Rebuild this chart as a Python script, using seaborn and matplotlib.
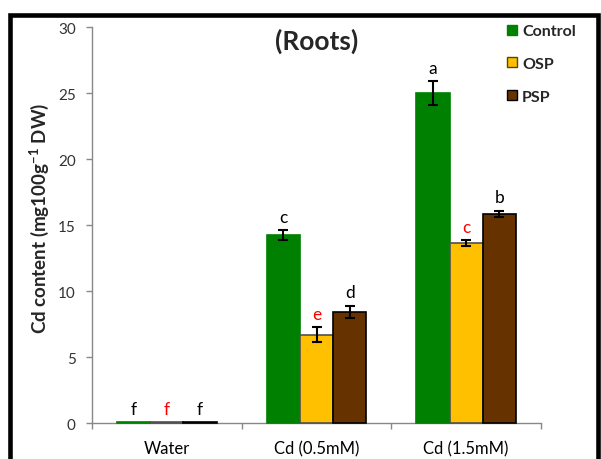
import pandas as pd
import seaborn as sns
import matplotlib.pyplot as plt
from matplotlib.lines import Line2D
from matplotlib.patches import Rectangle

treatments = ['Water', 'Cd (0.5mM)', 'Cd (1.5mM)']
groups = ['Control', 'OSP', 'PSP']
control = [0.1, 14.27, 25.02]
osp = [0.1, 6.70, 13.66]
psp = [0.1, 8.42, 15.86]
control_err = [0.0, 0.35, 0.91]
osp_err = [0.0, 0.56, 0.21]
psp_err = [0.0, 0.48, 0.25]
control_letters = ['f', 'c', 'a']
osp_letters = ['f', 'e', 'c']
psp_letters = ['f', 'd', 'b']

colors = {'Control': '#008000', 'OSP': '#FFC000', 'PSP': '#663300'}
edges = {'Control': '#008000', 'OSP': '#505050', 'PSP': '#000000'}
letter_colors = {'Control': 'black', 'OSP': 'red', 'PSP': 'black'}

df = pd.DataFrame({
    'treatment': treatments * 3,
    'group': [g for g in groups for _ in treatments],
    'cd': control + osp + psp,
})
errs = {'Control': control_err, 'OSP': osp_err, 'PSP': psp_err}
letters = {'Control': control_letters, 'OSP': osp_letters, 'PSP': psp_letters}

sns.set_style('white')
plt.rcParams['font.family'] = ['Lato', 'DejaVu Sans']
plt.rcParams['mathtext.fontset'] = 'custom'
plt.rcParams['mathtext.rm'] = 'Lato'
plt.rcParams['mathtext.bf'] = 'Lato:bold'
plt.rcParams['mathtext.default'] = 'bf'

fig = plt.figure(figsize=(6.01, 4.6), dpi=100)
ax = fig.add_axes([0.1531, 0.0776, 0.7471, 0.8609])

sns.barplot(data=df, x='treatment', y='cd', hue='group', order=treatments,
            hue_order=groups, palette=colors, saturation=1, width=2/3, gap=0,
            errorbar=None, legend=False, ax=ax)

for g, cont in zip(groups, ax.containers):
    for i, bar in enumerate(cont):
        bar.set_edgecolor(edges[g])
        bar.set_linewidth(1.2)
        bar.set_zorder(3)
        bar.set_clip_on(False)
        xc = bar.get_x() + bar.get_width() / 2
        top = bar.get_height() + errs[g][i]
        if errs[g][i] > 0:
            ax.errorbar(xc, bar.get_height(), yerr=errs[g][i], fmt='none',
                        ecolor='black', elinewidth=1.5, capsize=3.5,
                        capthick=1.5, zorder=5)
        ax.annotate(letters[g][i], (xc, top), xytext=(0, 6),
                    textcoords='offset points', ha='center', va='baseline',
                    fontsize=12.5, color=letter_colors[g])

ax.set_xlim(-0.5, 2.5)
ax.set_ylim(0, 30)
ax.set_yticks(range(0, 31, 5))
ax.set_xticks([-0.5, 0.5, 1.5, 2.5], minor=True)
ax.tick_params(axis='x', which='major', length=0, pad=12, labelsize=12,
               labelcolor='black')
ax.tick_params(axis='x', which='minor', length=4, width=1, color='#888888',
               direction='out', bottom=True)
ax.tick_params(axis='y', length=4.3, width=1, color='#888888', pad=7.5,
               labelsize=11, labelcolor='#333333', left=True, direction='out')
ax.set_xlabel('')
ax.set_ylabel('Cd content (mg100g$^{-1}$ DW)', fontsize=13.5, fontweight='bold')
ax.yaxis.set_label_coords(-0.092, 0.52)
sns.despine(ax=ax)
for s in ['left', 'bottom']:
    ax.spines[s].set_color('#888888')
    ax.spines[s].set_linewidth(1)

ax.text(0.5, 0.968, '(Roots)', transform=ax.transAxes, ha='center',
        va='center', fontsize=19, fontweight='bold')

handles = [Line2D([], [], marker='s', linestyle='none', markersize=7.5,
                  markerfacecolor=colors[g],
                  markeredgecolor={'Control': '#008000', 'OSP': '#5A4500',
                                   'PSP': '#000000'}[g])
           for g in groups]
fig.legend(handles, groups, loc='upper left', bbox_to_anchor=(0.842, 0.945),
           frameon=False, prop={'weight': 'bold', 'size': 11.5},
           handlelength=0.8, handletextpad=0.2, labelspacing=1.15,
           borderpad=0, borderaxespad=0)

fig.add_artist(Rectangle((10.5 / 601, -0.2), (598 - 10.5) / 601,
                         0.2 + (460 - 15.8) / 460, transform=fig.transFigure,
                         fill=False, edgecolor='black', linewidth=3.3))

fig.savefig('out.png', dpi=100)
